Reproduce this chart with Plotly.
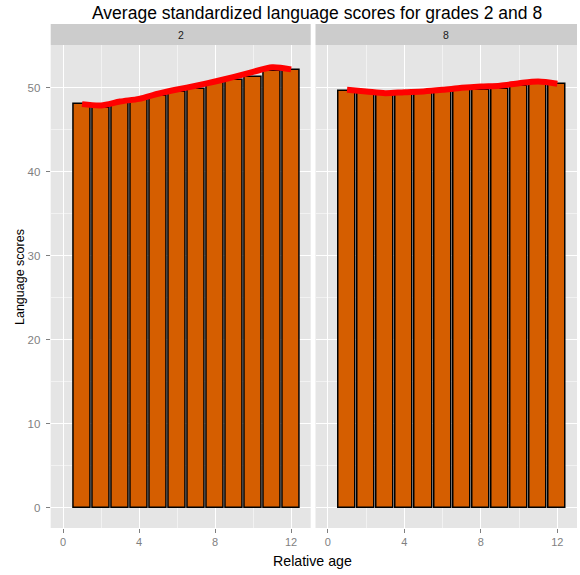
import plotly.graph_objects as go

# ---- data ----
relative_age = [1, 2, 3, 4, 5, 6, 7, 8, 9, 10, 11, 12]
grade2_bars = [48.05, 47.6, 48.2, 48.5, 49.05, 49.55, 49.85, 50.55, 50.9, 51.35, 51.95, 52.14]
grade8_bars = [49.68, 49.37, 49.1, 49.37, 49.45, 49.57, 49.84, 49.76, 49.84, 50.27, 50.48, 50.43]
grade2_smooth = [48.06, 47.9, 48.37, 48.69, 49.3, 49.8, 50.25, 50.75, 51.3, 51.9, 52.45, 52.2]
grade8_smooth = [49.76, 49.57, 49.37, 49.48, 49.57, 49.76, 50.0, 50.16, 50.26, 50.55, 50.75, 50.48]
panel_labels = ["2", "8"]
x_ticks = [0, 4, 8, 12]
y_ticks = [0, 10, 20, 30, 40, 50]

W, H = 580, 575
def px(x):
    return x / W
def py(y):
    return (H - y) / H

BAR_COLOR = "#D55E00"
FONT = "Liberation Sans, Arial, sans-serif"

fig = go.Figure()
panels = [(grade2_bars, grade2_smooth, "x", "y"), (grade8_bars, grade8_smooth, "x2", "y2")]
for bars, smooth, xa, ya in panels:
    fig.add_trace(go.Bar(x=relative_age, y=bars, width=0.9, xaxis=xa, yaxis=ya,
                         marker=dict(color=BAR_COLOR, line=dict(color="black", width=1.5)),
                         showlegend=False))
    fig.add_trace(go.Scatter(x=relative_age, y=smooth, mode="lines", xaxis=xa, yaxis=ya,
                             line=dict(color="#FF0000", width=6, shape="spline", smoothing=0.8),
                             showlegend=False))

dom1 = [px(50.7), px(310.7)]
dom2 = [px(315.5), px(577)]
ydom = [py(528), py(45)]

xcommon = dict(range=[-0.65, 13.03], tickvals=x_ticks, showgrid=True, gridcolor="white", gridwidth=1.1,
               zeroline=False, showline=False, ticks="outside", ticklen=4, tickcolor="#7F7F7F",
               tickfont=dict(size=11, color="#7F7F7F", family=FONT),
               minor=dict(dtick=2, tick0=0, showgrid=True, gridcolor="#F2F2F2", gridwidth=0.6))
ycommon = dict(range=[-2.4, 55.1], tickvals=y_ticks, showgrid=True, gridcolor="white", gridwidth=1.1,
               zeroline=False, showline=False, ticklen=4, tickcolor="#7F7F7F",
               tickfont=dict(size=11.5, color="#7F7F7F", family=FONT),
               minor=dict(dtick=5, tick0=0, showgrid=True, gridcolor="#F2F2F2", gridwidth=0.6))

fig.update_layout(
    width=W, height=H, margin=dict(l=0, r=0, t=0, b=0),
    paper_bgcolor="white", plot_bgcolor="#E5E5E5", bargap=0,
    xaxis=dict(domain=dom1, anchor="y", **xcommon),
    yaxis=dict(domain=ydom, anchor="x", ticks="outside", ticklabelstandoff=3, **ycommon),
    xaxis2=dict(domain=dom2, anchor="y2", **xcommon),
    yaxis2=dict(domain=ydom, anchor="x2", showticklabels=False, ticks="", **ycommon),
    font=dict(family=FONT),
)

shapes = []
annotations = []
for dom, lab in zip([dom1, dom2], panel_labels):
    shapes.append(dict(type="rect", xref="paper", yref="paper", x0=dom[0], x1=dom[1],
                       y0=py(45), y1=py(24), fillcolor="#CCCCCC", line=dict(width=0), layer="below"))
    annotations.append(dict(text=lab, xref="paper", yref="paper", x=(dom[0] + dom[1]) / 2, y=py(34.5),
                            showarrow=False, font=dict(size=10.5, color="#1A1A1A", family=FONT),
                            xanchor="center", yanchor="middle"))

annotations.append(dict(text="Average standardized language scores for grades 2 and 8", xref="paper", yref="paper",
                        x=px(317), y=py(13), showarrow=False, xanchor="center", yanchor="middle",
                        font=dict(size=17.5, color="black", family=FONT)))
annotations.append(dict(text="Relative age", xref="paper", yref="paper", x=px(312.5), y=py(561),
                        showarrow=False, xanchor="center", yanchor="middle",
                        font=dict(size=14.2, color="black", family=FONT)))
annotations.append(dict(text="Language scores", xref="paper", yref="paper", x=px(20), y=py(277),
                        showarrow=False, xanchor="center", yanchor="middle", textangle=-90,
                        font=dict(size=12.5, color="black", family=FONT)))

fig.update_layout(shapes=shapes, annotations=annotations)
fig.write_html("out.html", config={"displayModeBar": False},
               post_script="document.body.style.margin='0px';document.body.style.overflow='hidden';")
